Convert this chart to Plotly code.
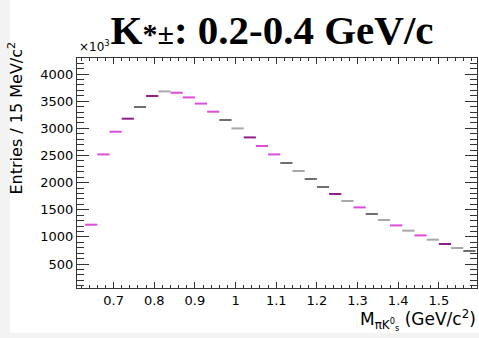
import plotly.graph_objects as go

# ---------------- data ----------------
bin_centers = [0.645, 0.675, 0.705, 0.735, 0.765, 0.795, 0.825, 0.855,
               0.885, 0.915, 0.945, 0.975, 1.005, 1.035, 1.065, 1.095,
               1.125, 1.155, 1.185, 1.215, 1.245, 1.275, 1.305, 1.335,
               1.365, 1.395, 1.425, 1.455, 1.485, 1.515, 1.545, 1.575]
entries_k = [1224, 2519, 2937, 3177, 3392, 3595, 3680, 3655,
             3569, 3455, 3306, 3153, 2998, 2832, 2674, 2519,
             2361, 2213, 2066, 1919, 1790, 1661, 1543, 1421,
             1311, 1211, 1114, 1027, 948, 869, 795, 740]
half_bin = 0.015
x_ticks = [0.7, 0.8, 0.9, 1.0, 1.1, 1.2, 1.3, 1.4, 1.5]
x_tick_text = ['0.7', '0.8', '0.9', '1', '1.1', '1.2', '1.3', '1.4', '1.5']
y_ticks = [500, 1000, 1500, 2000, 2500, 3000, 3500, 4000]

# ---------------- style ----------------
bin_style = ['m', 'm', 'm', 'p', 'g', 'p', 'l', 'm',
             'm', 'm', 'm', 'g', 'l', 'p', 'm', 'm',
             'g', 'l', 'g', 'g', 'p', 'l', 'm', 'g',
             'l', 'm', 'l', 'm', 'l', 'p', 'l', 'g']
style_colors = {'m': '#dc4ddc', 'p': '#8c1f8c', 'g': '#6e6e6e', 'l': '#a8a8a8'}

W, H = 479, 338
L, R, T, B = 77, 2, 58, 50
PW, PH = W - L - R, H - T - B


def px_x(px):
    return (px - L) / PW


def px_y(py):
    return (H - B - py) / PH


fig = go.Figure()
for key, col in style_colors.items():
    xs = [x for x, s in zip(bin_centers, bin_style) if s == key]
    ys = [y for y, s in zip(entries_k, bin_style) if s == key]
    fig.add_trace(go.Scatter(
        x=xs, y=ys, mode='markers',
        marker=dict(size=1, color=col),
        error_x=dict(type='constant', value=half_bin, color=col,
                     thickness=2, width=0),
        showlegend=False, hoverinfo='x+y'))

tick_font = dict(family='DejaVu Sans', size=13, color='black')

fig.update_xaxes(
    range=[0.61, 0.61 + PW / 406.6], tickvals=x_ticks, ticktext=x_tick_text,
    ticks='inside', ticklen=6, tickwidth=1, tickcolor='#333',
    minor=dict(ticks='inside', ticklen=3, dtick=0.02, tick0=0.6, tickcolor='#333'),
    showline=True, linecolor='#333', linewidth=1, mirror='ticks',
    showgrid=False, zeroline=False, tickfont=tick_font)
fig.update_yaxes(
    range=[58, 4295], tickvals=y_ticks,
    ticks='inside', ticklen=12, tickwidth=1, tickcolor='#333',
    minor=dict(ticks='inside', ticklen=7, dtick=100, tick0=0, tickcolor='#333'),
    showline=True, linecolor='#333', linewidth=1, mirror='ticks',
    showgrid=False, zeroline=False, tickfont=tick_font)

fig.update_layout(
    width=W, height=H,
    margin=dict(l=L, r=R, t=T, b=B, pad=0),
    paper_bgcolor='#f3f3f3', plot_bgcolor='white',
    title=dict(text='K<span style="font-size:30px">*±</span>: 0.2-0.4 GeV/c',
               font=dict(family='Liberation Serif', size=41, color='black', weight='bold'),
               x=px_x(272), xref='paper', xanchor='center',
               y=1 - 44 / H, yref='container', yanchor='bottom'),
    shapes=[dict(type='rect', xref='paper', yref='paper', layer='below',
                 x0=px_x(10), x1=px_x(W + 5), y0=px_y(333), y1=px_y(-5),
                 fillcolor='white', line=dict(width=0))],
    annotations=[
        dict(text='Entries / 15 MeV/c<sup>2</sup>', textangle=-90,
             xref='paper', yref='paper', x=px_x(16), y=px_y(40),
             xanchor='center', yanchor='top', showarrow=False,
             font=dict(family='DejaVu Sans', size=16, color='black')),
        dict(text='×10<sup>3</sup>', xref='paper', yref='paper',
             x=px_x(77), y=px_y(56), xanchor='left', yanchor='bottom',
             showarrow=False,
             font=dict(family='DejaVu Sans', size=12, color='black')),
        dict(text='M<sub>πK<sup>0</sup><sub>s</sub></sub> (GeV/c<sup>2</sup>)',
             xref='paper', yref='paper', x=px_x(478), y=px_y(320),
             xanchor='right', yanchor='middle', showarrow=False,
             font=dict(family='DejaVu Sans', size=17, color='black')),
    ],
)

fig.write_html('out.html')
